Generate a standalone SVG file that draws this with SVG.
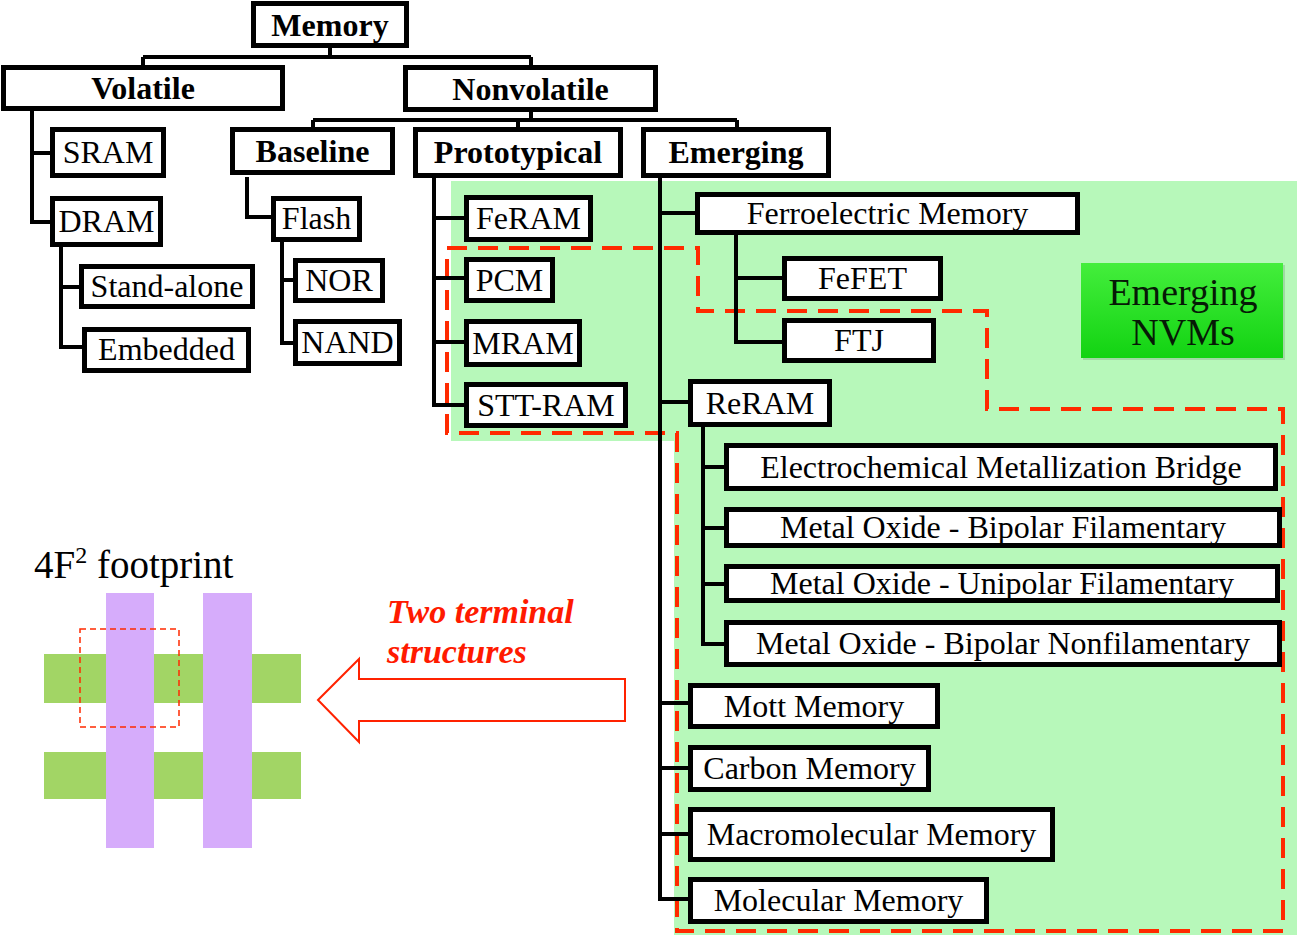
<svg xmlns="http://www.w3.org/2000/svg" width="1299" height="937" viewBox="0 0 1299 937">
<style>
.box{fill:#fff;stroke:#000;stroke-width:5}
.t{font-family:"Liberation Serif","Times New Roman",serif;font-size:32px;text-anchor:middle;fill:#000}
.b{font-weight:bold}
.ln{stroke:#000;stroke-width:4;fill:none}
.reddash{fill:none;stroke:#ff2a00;stroke-width:4;stroke-dasharray:20 11}
</style>
<defs>
<linearGradient id="nvm" x1="0" y1="0" x2="0" y2="1">
<stop offset="0" stop-color="#44ee3c"/>
<stop offset="1" stop-color="#12d312"/>
</linearGradient>
</defs>
<rect width="1299" height="937" fill="#fff"/>
<g id="background">
<polygon points="451,181 1297,181 1297,935 674,935 674,441 451,441" fill="#b7f8ba"/>
<polygon class="reddash" points="447,248 698,248 698,311 987,311 987,409 1283,409 1283,931 677,931 677,433 447,433"/>
</g>
<g id="connectors" class="ln">
<path d="M330,48 V57 M143,57 H531 M143,57 V65 M531,57 V65"/>
<path d="M531,112 V120 M313,120 H737 M313,120 V127 M518,120 V127 M737,120 V127"/>
<path d="M32,110 V222 H50 M32,153 H50"/>
<path d="M61,247 V347 H82 M61,287 H79"/>
<path d="M247,177 V217 H271"/>
<path d="M282,242 V343 H293 M282,280 H293"/>
<path d="M434,178 V405 H464 M434,218 H464 M434,278 H464 M434,342 H464"/>
<path d="M660,178 V899 H688 M660,213 H695 M660,402 H688 M660,703 H688 M660,768 H688 M660,834 H688"/>
<path d="M736,235 V342 H782 M736,278 H782"/>
<path d="M703,427 V644 H724 M703,467 H724 M703,528 H724 M703,584 H724"/>
</g>
<g id="memory"><rect class="box" x="253.5" y="3.5" width="153" height="42"/><text class="t b" x="330" y="36">Memory</text></g>
<g id="volatile"><rect class="box" x="3.5" y="67.5" width="279" height="41"/><text class="t b" x="143" y="99">Volatile</text></g>
<g id="nonvolatile"><rect class="box" x="405.5" y="67.5" width="250" height="42"/><text class="t b" x="530.5" y="99.5">Nonvolatile</text></g>
<g id="baseline"><rect class="box" x="232.5" y="129.5" width="160" height="43"/><text class="t b" x="312.5" y="162">Baseline</text></g>
<g id="prototypical"><rect class="box" x="415.5" y="129.5" width="205" height="46"/><text class="t b" x="518" y="163">Prototypical</text></g>
<g id="emerging"><rect class="box" x="643.5" y="129.5" width="185" height="46"/><text class="t b" x="736" y="163">Emerging</text></g>
<g id="sram"><rect class="box" x="52.5" y="129.5" width="111" height="46"/><text class="t" x="108" y="163">SRAM</text></g>
<g id="dram"><rect class="box" x="52.5" y="198.5" width="108" height="46"/><text class="t" x="106.5" y="232">DRAM</text></g>
<g id="standalone"><rect class="box" x="81.5" y="266.5" width="171" height="40"/><text class="t" x="167" y="297">Stand-alone</text></g>
<g id="embedded"><rect class="box" x="84.5" y="329.5" width="164" height="41"/><text class="t" x="166.5" y="360">Embedded</text></g>
<g id="flash"><rect class="box" x="273.5" y="198.5" width="86" height="41"/><text class="t" x="316.5" y="229">Flash</text></g>
<g id="nor"><rect class="box" x="295.5" y="260.5" width="87" height="40"/><text class="t" x="339" y="291">NOR</text></g>
<g id="nand"><rect class="box" x="295.5" y="321.5" width="104" height="42"/><text class="t" x="347.5" y="353">NAND</text></g>
<g id="feram"><rect class="box" x="466.5" y="197.5" width="124" height="42"/><text class="t" x="528.5" y="229">FeRAM</text></g>
<g id="pcm"><rect class="box" x="466.5" y="259.5" width="86" height="41"/><text class="t" x="509.5" y="291">PCM</text></g>
<g id="mram"><rect class="box" x="466.5" y="321.5" width="113" height="43"/><text class="t" x="523" y="354">MRAM</text></g>
<g id="sttram"><rect class="box" x="466.5" y="384.5" width="159" height="41"/><text class="t" x="546" y="416">STT-RAM</text></g>
<g id="ferroelectric"><rect class="box" x="697.5" y="194.5" width="380" height="38"/><text class="t" x="887.5" y="224">Ferroelectric Memory</text></g>
<g id="fefet"><rect class="box" x="784.5" y="258.5" width="156" height="40"/><text class="t" x="862.5" y="289">FeFET</text></g>
<g id="ftj"><rect class="box" x="784.5" y="320.5" width="149" height="40"/><text class="t" x="859" y="351">FTJ</text></g>
<g id="reram"><rect class="box" x="690.5" y="381.5" width="139" height="43"/><text class="t" x="760" y="414">ReRAM</text></g>
<g id="ecm"><rect class="box" x="726.5" y="445.5" width="549" height="43"/><text class="t" x="1001" y="478">Electrochemical Metallization Bridge</text></g>
<g id="mobf"><rect class="box" x="726.5" y="509.5" width="553" height="36"/><text class="t" x="1003" y="538">Metal Oxide - Bipolar Filamentary</text></g>
<g id="mouf"><rect class="box" x="726.5" y="566.5" width="551" height="34"/><text class="t" x="1002" y="594">Metal Oxide - Unipolar Filamentary</text></g>
<g id="mobn"><rect class="box" x="726.5" y="622.5" width="553" height="42"/><text class="t" x="1003" y="654">Metal Oxide - Bipolar Nonfilamentary</text></g>
<g id="mott"><rect class="box" x="690.5" y="685.5" width="247" height="41"/><text class="t" x="814" y="717">Mott Memory</text></g>
<g id="carbon"><rect class="box" x="690.5" y="747.5" width="238" height="42"/><text class="t" x="809.5" y="779">Carbon Memory</text></g>
<g id="macromolecular"><rect class="box" x="690.5" y="809.5" width="362" height="50"/><text class="t" x="871.5" y="845">Macromolecular Memory</text></g>
<g id="molecular"><rect class="box" x="690.5" y="879.5" width="296" height="42"/><text class="t" x="838.5" y="911">Molecular Memory</text></g>
<g id="emerging-nvms">
<rect x="1083" y="265" width="202" height="95" fill="#000" opacity="0.12"/>
<rect x="1081" y="263" width="202" height="95" fill="url(#nvm)"/>
<text class="t" x="1183" y="305" style="font-size:38px;fill:#061a06">Emerging</text>
<text class="t" x="1183" y="345" style="font-size:38px;fill:#061a06">NVMs</text>
</g>
<g id="footprint">
<rect x="44" y="654" width="257" height="49" fill="#a2d565"/>
<rect x="44" y="752" width="257" height="47" fill="#a2d565"/>
<rect x="106" y="593" width="48" height="255" fill="#d6acfb"/>
<rect x="203" y="593" width="49" height="255" fill="#d6acfb"/>
<rect x="80" y="629" width="99" height="98" fill="none" stroke="#ff2a00" stroke-width="1.5" stroke-dasharray="6 4"/>
<text x="34" y="578" style="font-family:'Liberation Serif','Times New Roman',serif;font-size:39px;fill:#000">4F<tspan dy="-15" style="font-size:24px">2</tspan><tspan dy="15"> footprint</tspan></text>
</g>
<g id="arrow">
<polygon points="318,700 359,659 359,679 625,679 625,721 359,721 359,742" fill="#fff" stroke="#ff2200" stroke-width="2"/>
<text x="387" y="623" style="font-family:'Liberation Serif','Times New Roman',serif;font-size:34px;font-weight:bold;font-style:italic;fill:#ff1a00">Two terminal</text>
<text x="387" y="663" style="font-family:'Liberation Serif','Times New Roman',serif;font-size:34px;font-weight:bold;font-style:italic;fill:#ff1a00">structures</text>
</g>
</svg>
